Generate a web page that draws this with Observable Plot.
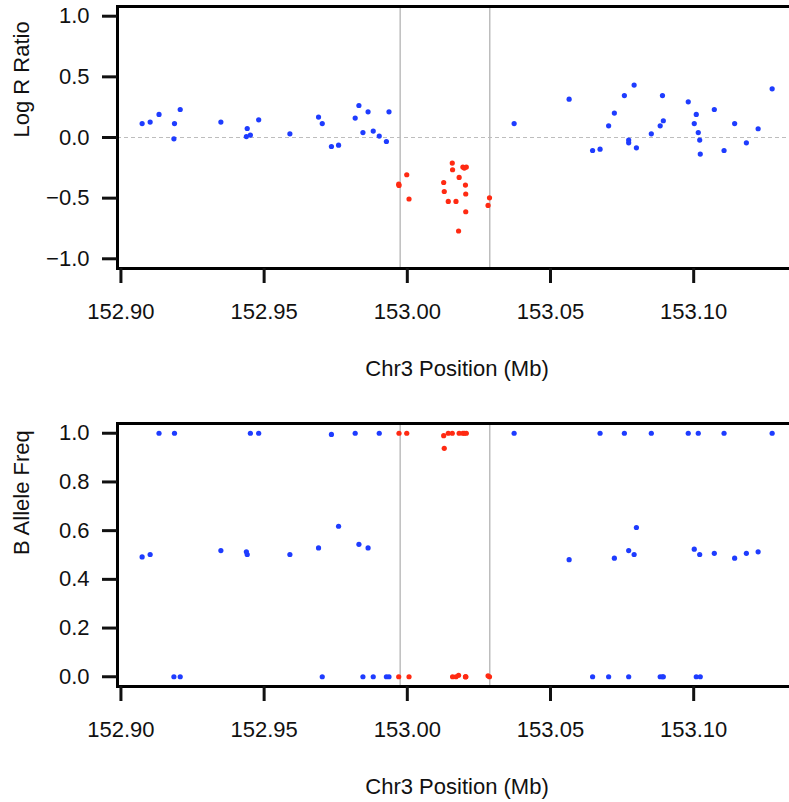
<!DOCTYPE html>
<html><head><meta charset="utf-8">
<script src="https://cdn.jsdelivr.net/npm/d3@7"></script>
<script src="https://cdn.jsdelivr.net/npm/@observablehq/plot@0.6"></script>
<style>
html,body{margin:0;padding:0;background:#fff;overflow:hidden;width:789px;height:802px}
#chart svg{display:block}
</style>
</head><body><div id="chart"></div>
<script>
// SNPs outside the called region (blue)
const posBlue = [152.9074,152.9102,152.9133,152.9187,152.9185,152.9207,152.9349,152.9441,152.9438,152.9452,
  152.9481,152.9590,152.9690,152.9703,152.9735,152.9760,152.9818,152.9831,152.9845,152.9863,
  152.9881,152.9902,152.9927,152.9936,153.0373,153.0565,153.0647,153.0673,153.0703,153.0723,
  153.0758,153.0773,153.0773,153.0792,153.0800,153.0852,153.0883,153.0891,153.0894,153.0981,
  153.1002,153.1009,153.1016,153.1021,153.1023,153.1072,153.1106,153.1143,153.1184,153.1225,153.1274];
const lrrBlue = [0.115,0.127,0.19,0.115,-0.011,0.231,0.127,0.074,0.008,0.02,
  0.146,0.03,0.168,0.115,-0.074,-0.063,0.160,0.264,0.041,0.212,
  0.053,0.012,-0.033,0.212,0.115,0.316,-0.107,-0.096,0.096,0.201,
  0.346,-0.021,-0.044,0.432,-0.085,0.030,0.096,0.346,0.138,0.294,
  0.115,0.190,0.041,-0.021,-0.137,0.231,-0.107,0.115,-0.044,0.072,0.401];
const bafBlue = [0.492,0.502,1,1,0,0,0.518,0.502,0.513,1,
  1,0.502,0.529,0,0.995,0.618,1,0.544,0,0.529,
  0,1,0,0,1,0.481,0,1,0,0.487,
  1,0.518,0,0.502,0.613,1,0,0,0,1,
  0.524,0,1,0.502,0,0.507,1,0.487,0.507,0.513,1];
// SNPs inside the called region (red)
const posRed = [152.9971,152.9970,152.9998,153.0006,153.0127,153.0129,153.0143,153.0157,153.0158,153.0170,
  153.0181,153.0179,153.0194,153.0199,153.0206,153.0203,153.0204,153.0204,153.0287,153.0282];
const lrrRed = [-0.395,-0.385,-0.307,-0.507,-0.371,-0.445,-0.527,-0.211,-0.266,-0.527,
  -0.329,-0.771,-0.244,-0.252,-0.244,-0.392,-0.466,-0.612,-0.497,-0.56];
const bafRed = [1,0,1,0,0.99,0.938,1,1,0,0,
  1,0.006,1,1,1,0,0,0,0,0.004];

const regionBounds = [152.9975, 153.0288];
const xTicks = [152.90, 152.95, 153.00, 153.05, 153.10];
const lrrTicks = [-1, -0.5, 0, 0.5, 1];
const bafTicks = [0, 0.2, 0.4, 0.6, 0.8, 1];
const xTitle = "Chr3 Position (Mb)";
const lrrTitle = "Log R Ratio";
const bafTitle = "B Allele Freq";

const blue = posBlue.map((p, i) => ({pos: p, lrr: lrrBlue[i], baf: bafBlue[i]}));
const red = posRed.map((p, i) => ({pos: p, lrr: lrrRed[i], baf: bafRed[i]}));

const FONT = "'Liberation Sans', Arial, Helvetica, sans-serif";
const FS = 22;

function panel({yKey, yDomain, yTicks, yTitle, height, marginTop, marginBottom, zero}) {
  return Plot.plot({
    width: 797,
    height,
    marginLeft: 117,
    marginRight: 1,
    marginTop,
    marginBottom,
    style: {fontFamily: FONT, fontSize: FS + "px", color: "#111", background: "white", maxWidth: "none"},
    x: {domain: [152.8988, 153.1359], axis: null},
    y: {domain: yDomain, axis: null},
    marks: [
      Plot.ruleX(regionBounds, {stroke: "#b3b3b3", strokeWidth: 1.3}),
      zero ? Plot.ruleY([0], {stroke: "#bdbdbd", strokeWidth: 1, strokeDasharray: "4,3"}) : null,
      Plot.dot(blue, {x: "pos", y: yKey, r: 2.6, fill: "#1e3cff", stroke: null}),
      Plot.dot(red, {x: "pos", y: yKey, r: 2.6, fill: "#ff2a12", stroke: null}),
      Plot.frame({stroke: "black", strokeWidth: 3}),
      Plot.axisX(xTicks, {tickSize: 15, tickPadding: 20, strokeWidth: 3, tickFormat: d3.format(".2f"), fontSize: FS, label: null}),
      Plot.axisY(yTicks, {tickSize: 15, tickPadding: 13, strokeWidth: 3, tickFormat: d3.format(".1f"), fontSize: FS, label: null}),
      Plot.text([xTitle], {text: d => d, frameAnchor: "bottom", lineAnchor: "top", dy: 92, fontSize: FS}),
      Plot.text([yTitle], {text: d => d, frameAnchor: "left", rotate: -90, lineAnchor: "top", dx: -104.5, fontSize: FS})
    ]
  });
}

const chart = document.getElementById("chart");
chart.append(panel({yKey: "lrr", yDomain: [-1.08, 1.08], yTicks: lrrTicks, yTitle: lrrTitle,
  height: 410, marginTop: 6, marginBottom: 142, zero: true}));
chart.append(panel({yKey: "baf", yDomain: [-0.04, 1.04], yTicks: bafTicks, yTitle: bafTitle,
  height: 392, marginTop: 13, marginBottom: 116, zero: false}));
</script>
</body></html>
